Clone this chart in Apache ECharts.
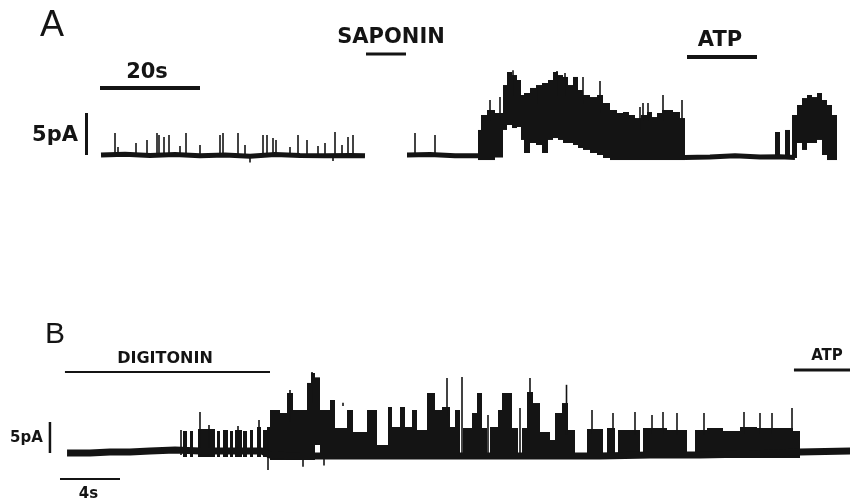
<!DOCTYPE html>
<html><head><meta charset="utf-8">
<script src="https://cdn.jsdelivr.net/npm/echarts@6/dist/echarts.min.js"></script>
<style>html,body{margin:0;padding:0;background:#fff}#c{width:850px;height:503px}</style>
</head><body><div id="c"></div>
<script>
// ---------- Panel A (time in s, current in pA) ----------
var baseA1 = [[0.2,0.0],[5,0.1],[10,-0.05],[15,0.05],[20,-0.1],[25,0.0],[30,-0.15],[35,0.05],[40,-0.05],[45,-0.1],[50,-0.05],[53,-0.1]];
var baseA2a = [[61.4,0.0],[66,0.05],[71,-0.1],[76.2,-0.1]];
var baseA2b = [[117.0,-0.3],[122,-0.25],[127,-0.1],[132,-0.25],[136,-0.2],[139.0,-0.3]];
// spikes: [t, low, high]
var spikesA = [
  [3.0,0,2.62],[3.6,0,0.95],[7.2,0,1.43],[9.4,0,1.79],[11.4,0,2.62],[11.8,0,2.38],[12.8,0,2.14],[13.8,0,2.38],
  [16.0,0,1.07],[17.2,0,2.62],[20.0,0,1.19],[24.0,0,2.38],[24.6,0,2.62],[27.6,0,2.62],[29.0,0,1.19],[30.0,-0.9,0],
  [32.6,0,2.38],[33.4,0,2.38],[34.6,0,2.02],[35.2,0,1.79],[38.0,0,0.95],[39.6,0,2.38],[41.4,0,1.79],[43.6,0,1.07],
  [45.0,0,1.43],[46.6,-0.7,0],[47.0,0,2.74],[48.4,0,1.19],[49.6,0,2.14],[50.6,0,2.38],
  [63.0,0,2.62],[67.0,0,2.38],[78.0,4.0,6.55],[80.0,4.0,6.90],[82.6,7.0,10.1],[87.4,6.0,8.1],[91.4,7.0,10.0],
  [93.0,7.0,9.76],[96.6,6.0,9.29],[100.0,5.0,8.81],[108.0,3.0,5.71],[108.6,4.0,6.19],[109.6,4.0,6.19],
  [112.6,4.0,7.14],[116.4,4.0,6.55]
];
// bursts: [t start, t end, low, high]
var blocksA = [
  [75.6,76.2,-0.6,2.98],[76.2,77.4,-0.6,4.76],[77.4,79.0,-0.6,5.36],[79.0,80.6,-0.3,5.0],
  [80.6,81.4,2.98,8.33],[81.4,82.4,3.57,9.88],[82.4,83.4,3.21,9.52],[83.4,84.2,3.33,8.93],[84.2,84.8,1.79,7.14],
  [84.8,86.0,0.24,7.38],[86.0,87.2,1.43,7.98],[87.2,88.4,1.19,8.33],[88.4,89.6,0.24,8.57],[89.6,90.6,1.79,8.93],
  [90.6,91.6,2.02,9.88],[91.6,92.6,1.79,9.52],[92.6,93.6,1.43,9.29],[93.6,94.6,1.43,8.33],[94.6,95.6,1.19,9.29],
  [95.6,96.6,0.83,7.74],[96.6,98.0,0.6,7.14],[98.0,99.4,0.24,6.90],[99.4,100.6,0,7.14],[100.6,102.0,-0.36,6.19],
  [102.0,103.4,-0.6,5.36],[103.4,104.6,-0.6,5.0],[104.6,105.8,-0.6,5.12],[105.8,107.0,-0.6,4.76],[107.0,108.2,-0.6,4.40],
  [108.2,109.4,-0.6,4.76],[109.4,110.4,-0.6,5.12],[110.4,111.4,-0.6,4.52],[111.4,112.4,-0.6,5.0],[112.4,113.4,-0.6,5.36],
  [113.4,114.6,-0.6,5.36],[114.6,116.0,-0.6,5.12],[116.0,117.0,-0.6,4.40],
  [135.0,136.0,-0.24,2.74],[137.0,138.0,-0.24,2.98],[138.4,139.4,-0.36,4.76],[139.4,140.4,1.43,5.95],
  [140.4,141.4,0.6,6.78],[141.4,142.4,1.43,7.14],[142.4,143.4,1.43,6.90],[143.4,144.4,1.79,7.38],
  [144.4,145.4,0,6.55],[145.4,146.4,-0.6,5.95],[146.4,147.4,-0.6,4.76]
];
var saponinA = [53.2, 61.2];
var atpA = [117.4, 131.4];
var timeBarA = [0, 20];
var ampBarA = [0, 5];

// ---------- Panel B ----------
var baseB = [[0.47,0],[2.0,0],[3.33,0.16],[4.67,0.16],[6.0,0.32],[7.67,0.48],[9.33,0.32],[11.33,0.32],[13.47,0.32],
  [14.0,-0.32],[16.0,-0.48],[19.33,-0.48],[22.67,-0.48],[26.0,-0.48],[29.33,-0.48],[33.33,-0.48],[36.0,-0.48],
  [39.33,-0.32],[42.67,-0.32],[46.0,-0.16],[49.33,0.16],[52.67,0.32]];
var blocksB = [
  [8.2,8.467,-0.65,3.55],[8.667,8.867,-0.65,3.55],[9.2,10.333,-0.65,3.87],[10.467,10.667,-0.65,3.55],
  [10.867,11.2,-0.65,3.71],[11.333,11.533,-0.65,3.55],[11.667,12.133,-0.65,3.71],[12.2,12.467,-0.65,3.55],
  [12.667,12.867,-0.65,3.71],[13.133,13.4,-0.65,4.19],[13.533,13.8,-0.65,3.71],[13.8,14.0,-0.81,4.19],
  [14.0,14.667,-1.13,6.94],[14.667,15.133,-1.13,6.45],[15.133,15.533,-1.13,9.68],[15.533,16.0,-1.13,6.94],
  [16.0,16.467,-1.13,6.94],[16.467,16.733,-1.13,11.3],[16.733,17.0,-1.13,12.9],[17.0,17.333,1.29,12.2],[17.333,18.0,-0.81,6.94],
  [18.0,18.333,-0.81,8.55],[18.333,19.133,-0.81,4.03],[19.133,19.533,-0.81,6.94],[19.533,20.467,-0.48,3.39],
  [20.467,21.133,-0.81,6.94],[21.133,21.867,-0.81,1.29],[21.867,22.133,-0.81,7.42],[22.133,22.667,-0.81,4.19],
  [22.667,23.0,-0.81,7.42],[23.0,23.467,-0.81,4.19],[23.467,23.8,-0.81,6.94],[23.8,24.467,-0.81,3.71],
  [24.467,24.8,-0.81,9.68],[24.8,25.0,-0.81,9.68],[25.0,25.467,-0.81,6.94],[25.467,26.0,-0.81,7.42],
  [26.0,26.333,-0.81,4.19],[26.333,26.667,-0.81,6.94],[26.867,27.467,-0.81,4.03],[27.467,27.8,-0.81,6.45],
  [27.8,28.133,-0.81,9.68],[28.133,28.467,-0.81,4.03],[28.667,29.2,-0.81,4.19],[29.2,29.467,-0.81,6.94],
  [29.467,30.133,-0.81,9.68],[30.133,30.533,-0.81,4.03],[30.8,31.133,-0.81,4.03],[31.133,31.533,-0.81,9.84],
  [31.533,32.0,-0.81,8.06],[32.0,32.667,-0.81,3.39],[32.667,33.0,-0.81,2.10],[33.0,33.467,-0.81,6.45],
  [33.467,33.867,-0.81,8.06],[33.867,34.333,-0.81,3.71],[35.133,36.2,-0.81,3.87],[36.467,37.0,-0.81,4.03],
  [37.2,38.667,-0.81,3.71],[38.867,40.467,-0.81,4.03],[40.467,41.8,-0.81,3.71],[42.333,43.133,-0.81,3.71],
  [43.133,44.2,-0.81,4.03],[44.2,45.333,-0.81,3.55],[45.333,46.467,-0.81,4.19],[46.467,47.8,-0.81,4.03],
  [47.8,48.867,-0.81,4.03],[48.867,49.333,-0.81,3.55]
];
var spikesB = [
  [8.067,-0.32,3.71],[9.333,-0.32,6.61],[9.933,-0.32,4.52],[11.867,-0.32,4.35],[13.267,-0.32,5.32],
  [13.867,-2.74,2.10],[15.333,5.0,10.16],[16.2,-2.2,0],[16.8,8.0,13.06],[17.6,-2.0,0],[18.867,7.6,8.1],
  [25.8,6.0,12.10],[26.8,-0.81,12.26],[28.533,-0.81,6.13],[30.667,-0.81,7.26],[31.333,8.0,12.10],
  [33.767,3.0,11.0],[35.467,3.0,6.94],[36.867,3.0,6.45],[38.333,3.0,6.61],[39.467,3.0,6.13],[40.2,3.0,6.61],
  [41.133,3.0,6.45],[42.933,3.0,6.45],[45.6,3.0,6.61],[46.667,3.0,6.45],[47.467,3.0,6.45],[48.8,3.0,7.26]
];
var digitoninB = [0.33, 14.0];
var atpB = [48.93, 52.67];
var timeBarB = [0, 4];
var ampBarB = [0, 5];

var INK = '#141414';
function blockItem(params, api) {
  var a = api.coord([api.value(0), api.value(3)]);
  var b = api.coord([api.value(1), api.value(2)]);
  return {type:'rect', shape:{x:a[0], y:a[1], width:Math.max(b[0]-a[0],1.5), height:b[1]-a[1]}, style:{fill:INK}};
}
function spikeItem(params, api) {
  var a = api.coord([api.value(0), api.value(2)]);
  var b = api.coord([api.value(0), api.value(1)]);
  return {type:'line', shape:{x1:a[0], y1:a[1], x2:b[0], y2:b[1]}, style:{stroke:INK, lineWidth:1.6}};
}
function lineS(idx, data, w) {
  return {type:'line', xAxisIndex:idx, yAxisIndex:idx, data:data, symbol:'none', showSymbol:false, silent:true, clip:false,
    lineStyle:{color:INK, width:w}, z:3};
}
function hbar(idx, span, y, w) { return lineS(idx, [[span[0], y],[span[1], y]], w); }
function vbar(idx, x, span, w) { return lineS(idx, [[x, span[0]],[x, span[1]]], w); }
function custom(idx, data, fn) {
  return {type:'custom', xAxisIndex:idx, yAxisIndex:idx, data:data, renderItem:fn, silent:true, clip:false, z:2,
    encode:{x:[0], y:[1]}};
}

var chart = echarts.init(document.getElementById('c'), null, {renderer:'canvas'});
function txt(t, x, y, size, align, font) {
  return {type:'text', x:x, y:y, style:{text:t, fill:INK, align:align||'center', verticalAlign:'middle',
    font: font || ('bold ' + size + 'px "DejaVu Sans"')}};
}
chart.setOption({
  animation:false,
  backgroundColor:'#ffffff',
  grid:[
    {left:0, top:12.2, width:840, height:168},
    {left:0, top:353.8, width:850, height:136.4}
  ],
  xAxis:[
    {type:'value', gridIndex:0, min:-20, max:148, show:false},
    {type:'value', gridIndex:1, min:-4, max:52.6667, show:false}
  ],
  yAxis:[
    {type:'value', gridIndex:0, min:-3, max:17, show:false},
    {type:'value', gridIndex:1, min:-6, max:16, show:false}
  ],
  series:[
    lineS(0, baseA1, 5), lineS(0, baseA2a, 5), lineS(0, baseA2b, 5),
    custom(0, blocksA, blockItem), custom(0, spikesA, spikeItem),
    hbar(0, saponinA, 12.02, 3), hbar(0, atpA, 11.67, 4), hbar(0, timeBarA, 7.98, 4), vbar(0, -2.7, ampBarA, 3),
    lineS(1, baseB, 7),
    custom(1, blocksB, blockItem), custom(1, spikesB, spikeItem),
    hbar(1, digitoninB, 13.06, 2), hbar(1, atpB, 13.39, 3), hbar(1, timeBarB, -4.19, 2), vbar(1, -0.67, ampBarB, 2.5)
  ],
  graphic:[
    txt('A', 40, 26, 36, 'left', '36px "Liberation Sans"'),
    txt('20s', 147, 73, 21),
    txt('SAPONIN', 391, 37.5, 21),
    txt('ATP', 720, 40.5, 21),
    txt('5pA', 78, 135.5, 21, 'right'),
    txt('B', 45, 335, '', 'left', '30px "Liberation Sans"'),
    txt('DIGITONIN', 165, 359, 16),
    txt('ATP', 827, 356, 15),
    txt('5pA', 26.5, 438, 15),
    txt('4s', 88.5, 494.5, 15)
  ]
});
</script></body></html>
